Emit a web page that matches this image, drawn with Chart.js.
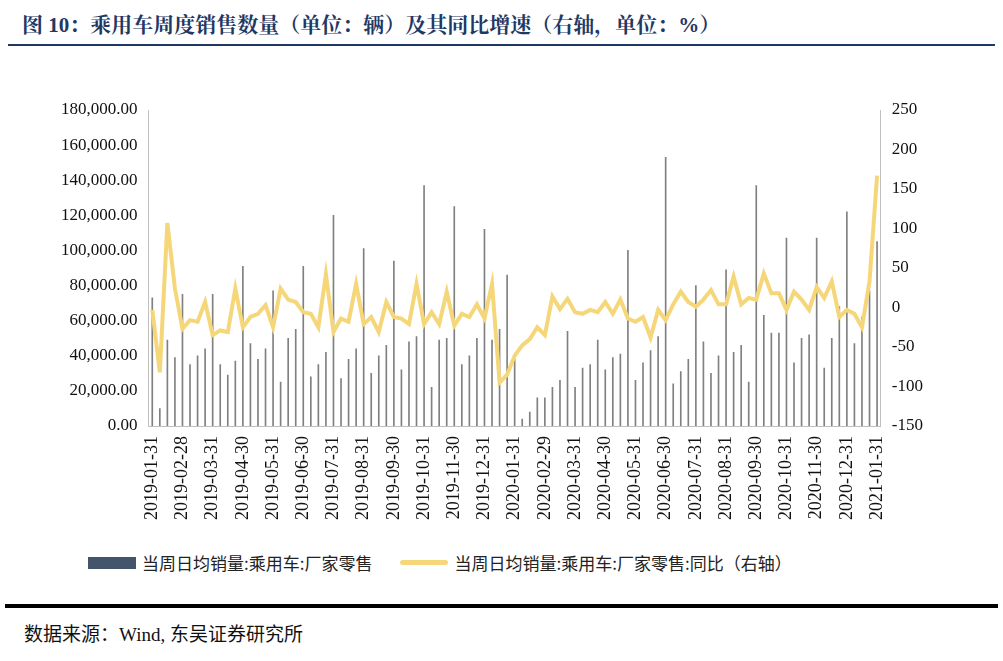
<!DOCTYPE html>
<html><head><meta charset="utf-8">
<script src="https://cdn.jsdelivr.net/npm/chart.js@4"></script>
<style>
body{margin:0;width:1003px;height:661px;background:#fff;position:relative;font-family:"Noto Sans CJK SC",serif;overflow:hidden}
#title{position:absolute;left:22px;top:8px;font-size:21px;font-weight:bold;color:#1f3864;font-family:"Liberation Serif","Noto Serif CJK SC","Noto Sans CJK SC"}
#tl{position:absolute;left:8px;right:8px;top:44px;height:2px;background:#1f3864}
#wrap{position:absolute;left:0;top:92px;width:1003px;height:430px}
#legend{position:absolute;top:550px;left:88px;font-size:17px;color:#222;display:flex;align-items:center}
#bl{position:absolute;left:5px;right:5px;top:604px;height:4px;background:#000}
#src{position:absolute;left:24px;top:619px;font-size:19px;color:#111;font-family:"Liberation Serif","Noto Sans CJK SC"}
</style></head><body>
<div id="title">图 10：乘用车周度销售数量（单位：辆）及其同比增速（右轴，单位：%）</div>
<div id="tl"></div>
<div id="wrap"><canvas id="c"></canvas></div>
<div id="legend"><span style="display:inline-block;width:48px;height:12px;background:#44546a;margin-right:6px"></span>当周日均销量:乘用车:厂家零售<span style="display:inline-block;width:48px;height:5px;background:#f5d77a;border-radius:3px;margin:0 6px 0 28px"></span>当周日均销量:乘用车:厂家零售:同比（右轴）</div>
<div id="bl"></div>
<div id="src">数据来源：Wind, 东吴证券研究所</div>
<script>
const monthLabels=["2019-01-31","2019-02-28","2019-03-31","2019-04-30","2019-05-31","2019-06-30","2019-07-31","2019-08-31","2019-09-30","2019-10-31","2019-11-30","2019-12-31","2020-01-31","2020-02-29","2020-03-31","2020-04-30","2020-05-31","2020-06-30","2020-07-31","2020-08-31","2020-09-30","2020-10-31","2020-11-30","2020-12-31","2021-01-31"];
const sales=[73000,
10000,49000,39000,75000,
35000,40000,44000,75000,
35000,29000,37000,91000,
47000,38000,44000,77000,
25000,50000,55000,91000,
28000,35000,42000,120000,
27000,38000,44000,101000,
30000,40000,46000,94000,
32000,48000,51000,137000,
22000,49000,50000,125000,
35000,40000,50000,112000,
49000,55000,86000,38000,
4000,8000,16000,16000,
22000,26000,54000,22000,
33000,35000,49000,32000,
39000,41000,100000,26000,
36000,43000,51000,153000,
24000,31000,38000,80000,
48000,30000,40000,89000,
42000,46000,25000,137000,
63000,53000,53000,107000,
36000,50000,52000,107000,
33000,50000,68000,122000,
47000,62000,77000,105000];
const yoy=[-3,-82,107,24,-27,-16,-18,7,-35,-29,-31,24,-25,-12,-8,3,-25,24,10,7,-6,-8,-25,42,-31,-14,-18,30,-21,-12,-31,7,
-12,-14,-21,30,-21,-6,-21,20,-23,-8,-12,4,-14,30,-95,-85,-61,-48,-40,-25,-35,14,-2,11,-6,-8,-3,-6,7,
-8,10,-14,-18,-12,-38,-3,-16,4,20,7,1,10,22,4,4,39,4,12,10,43,18,18,-3,20,10,-3,26,12,33,-12,-3,-8,-25,33,167];
const labels=sales.map((v,i)=>i%4===0?monthLabels[i/4]:"");
const serif='"Liberation Serif","Times New Roman",serif';
new Chart(document.getElementById('c'),{
data:{labels,datasets:[
{type:'line',data:yoy,yAxisID:'y1',borderColor:'#f5d77a',borderWidth:4,pointRadius:0,tension:0,order:0},
{type:'bar',data:sales,yAxisID:'y',backgroundColor:'#808080',barThickness:1,order:1}
]},
options:{responsive:true,maintainAspectRatio:false,animation:false,
layout:{padding:{top:18,left:58,right:77}},
plugins:{legend:{display:false},tooltip:{enabled:false}},
scales:{
x:{grid:{display:false},border:{color:'#bfbfbf'},ticks:{autoSkip:false,maxRotation:90,minRotation:90,color:'#111',font:{family:serif,size:18},padding:2}},
y:{min:0,max:180000,position:'left',grid:{display:false},border:{color:'#bfbfbf'},ticks:{stepSize:20000,color:'#111',font:{family:serif,size:17},callback:v=>v.toLocaleString('en-US',{minimumFractionDigits:2})}},
y1:{min:-150,max:250,position:'right',grid:{display:false},border:{color:'#bfbfbf'},ticks:{stepSize:50,color:'#111',font:{family:serif,size:17}}}
}}});
</script></body></html>
